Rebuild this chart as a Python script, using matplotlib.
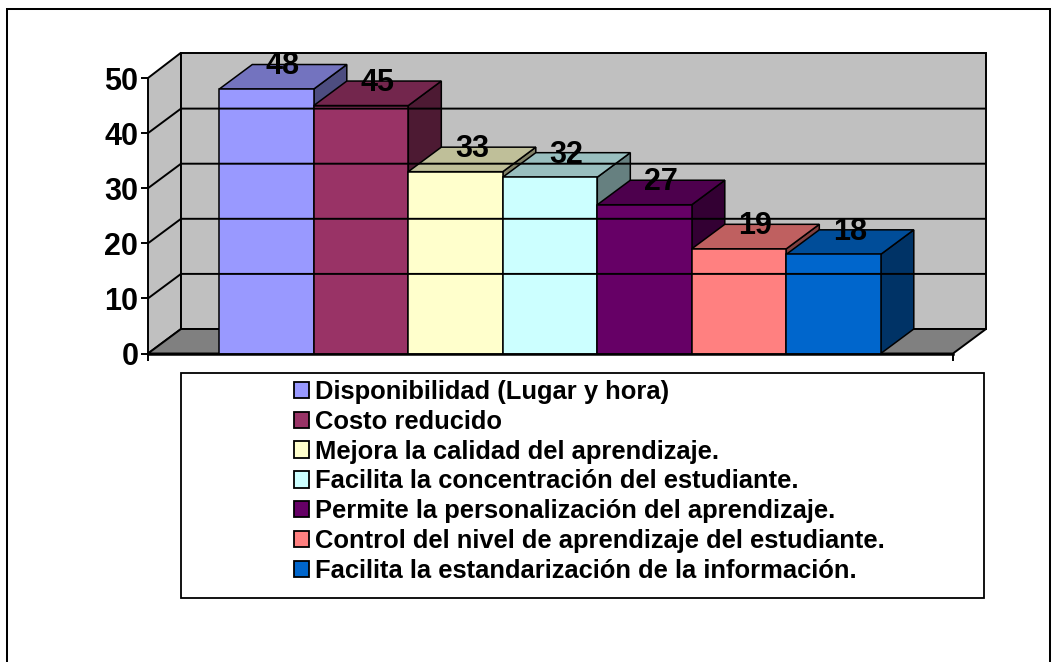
import matplotlib
matplotlib.use('Agg')
import matplotlib.pyplot as plt
from matplotlib.patches import Patch, Polygon, Rectangle

plt.rcParams['font.family'] = ['Liberation Sans', 'DejaVu Sans']
plt.rcParams['font.weight'] = 'bold'

labels = ['Disponibilidad (Lugar y hora)', 'Costo reducido',
          'Mejora la calidad del aprendizaje.',
          'Facilita la concentración del estudiante.',
          'Permite la personalización del aprendizaje.',
          'Control del nivel de aprendizaje del estudiante.',
          'Facilita la estandarización de la información.']
values = [48, 45, 33, 32, 27, 19, 18]
colors = ['#9999FF', '#993366', '#FFFFCC', '#CCFFFF', '#660066', '#FF8080', '#0066CC']
y_ticks = [0, 10, 20, 30, 40, 50]

W, H = 1063, 662
fig = plt.figure(figsize=(W / 100, H / 100), dpi=100)


def px_box(x0, y0, x1, y1):
    return [x0 / W, 1 - y1 / H, (x1 - x0) / W, (y1 - y0) / H]


def shade(color, k):
    rgb = matplotlib.colors.to_rgb(color)
    return tuple(c * k for c in rgb)


# outer frame and legend frame
fig.patches.append(Rectangle((7 / W, 1 - 700 / H), 1043 / W, 691 / H, transform=fig.transFigure,
                             fill=False, ec='black', lw=1.45))
fig.patches.append(Rectangle((181 / W, 1 - 598 / H), 803 / W, 225 / H, transform=fig.transFigure,
                             fill=False, ec='black', lw=1.3))

ax = fig.add_axes(px_box(148, 52.7, 986, 353.5))
bar_px = 94.5
unit_px = 5.51
x_left = -0.5 - 71.3 / bar_px
x_right = x_left + 838 / bar_px
x_end = x_left + 805 / bar_px
y_top = 300.8 / unit_px
dx = 33 / bar_px
dy = 24.5 / unit_px
ax.set_xlim(x_left, x_right)
ax.set_ylim(0, y_top)
ax.patch.set_visible(False)
for s in ax.spines.values():
    s.set_visible(False)

lw = 1.4
bar_lw = 1.1
# walls and floor
ax.add_patch(Polygon([(x_left, 0), (x_left + dx, dy), (x_left + dx, y_top), (x_left, 50)],
                     fc='#C0C0C0', ec='black', lw=lw, clip_on=False))
ax.add_patch(Rectangle((x_left + dx, dy), x_right - x_left - dx, y_top - dy,
                       fc='#C0C0C0', ec='black', lw=lw, clip_on=False))
ax.add_patch(Polygon([(x_left, 0), (x_end, 0), (x_right, dy), (x_left + dx, dy)],
                     fc='#808080', ec='black', lw=lw, clip_on=False))
for t in y_ticks[1:-1]:
    ax.plot([x_left, x_left + dx, x_right], [t, t + dy, t + dy], color='black', lw=lw)

# 3d bars, left to right so each one overlaps the previous side face
for i, (v, c) in enumerate(zip(values, colors)):
    x0, x1 = i - 0.5, i + 0.5
    ax.add_patch(Polygon([(x1, 0), (x1 + dx, dy), (x1 + dx, v + dy), (x1, v)],
                         fc=shade(c, 0.5), ec='black', lw=bar_lw))
    ax.add_patch(Polygon([(x0, v), (x1, v), (x1 + dx, v + dy), (x0 + dx, v + dy)],
                         fc=shade(c, 0.75), ec='black', lw=bar_lw))
    ax.bar(i, v, width=1, color=c, edgecolor='black', linewidth=bar_lw)

ax.plot([x_left, x_end], [0, 0], color='black', lw=1.8, clip_on=False)

for i, v in enumerate(values):
    ax.text(i + dx / 2, v + dy - 0.35, str(v), ha='center', va='center', fontsize=22, color='black', clip_on=False)

ax.set_yticks(y_ticks)
ax.tick_params(axis='y', length=5, width=1.4, labelsize=22, pad=2)
ax.set_xticks([x_left, x_end])
ax.set_xticklabels([])
ax.tick_params(axis='x', length=5, width=1.4)

handles = [Patch(facecolor=c, edgecolor='black', linewidth=1.3) for c in colors]
fig.legend(handles, labels, loc='upper left', bbox_to_anchor=(294 / W, 1 - 380 / H), frameon=False,
           fontsize=18.4, labelspacing=0.227, handlelength=0.6, handleheight=0.6, handletextpad=0.23,
           borderpad=0, borderaxespad=0, labelcolor='black')

fig.savefig('out.png', dpi=100)
